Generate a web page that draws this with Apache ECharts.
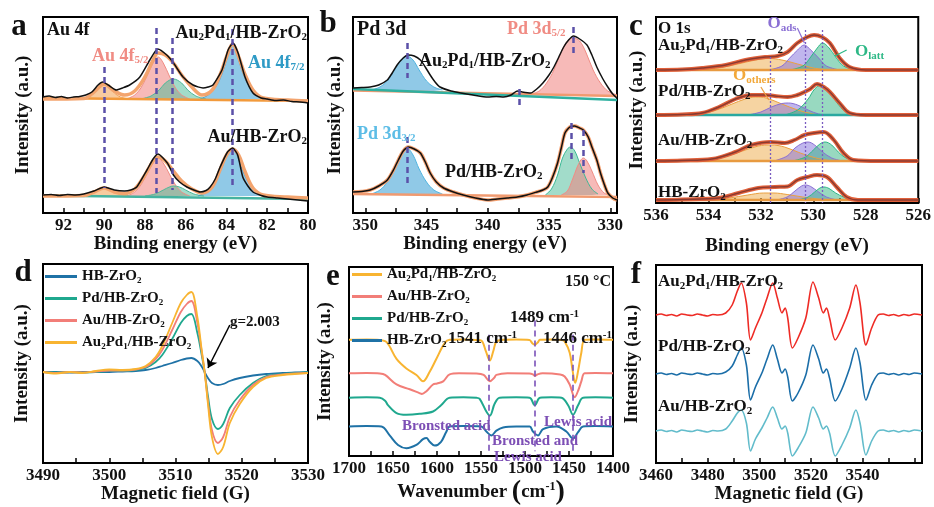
<!DOCTYPE html>
<html><head><meta charset="utf-8">
<script src="https://cdn.jsdelivr.net/npm/echarts@6/dist/echarts.min.js"></script>
<style>html,body{margin:0;padding:0;background:#fff}#c{width:934px;height:507px}</style>
</head><body><div id="c"></div><script>
const FONT = "'Liberation Serif','Times New Roman',serif";

// ---------- Panel a: Au 4f XPS ----------
const aLabelTicks = [80, 82, 84, 86, 88, 90, 92];
const aTopMeasured = [[93,116],[92.7,117],[92.4,115.5],[92.1,116.5],[91.8,115],[91.5,116],[91.2,116.5],[90.9,118],[90.6,121],[90.3,128],[90.07,131],[89.8,128],[89.4,123],[89.1,125],[88.75,128],[88.25,136],[87.76,153],[87.37,164],[86.93,158],[86.6,150],[86.13,136],[85.64,128],[85.15,125],[84.9,126],[84.66,128],[84.22,143],[83.92,163],[83.68,170],[83.43,160],[83.09,136],[82.7,120],[82.3,115],[82.0,114],[81.6,112.5],[81.2,113],[80.8,111.5],[80.4,111],[80,110]];
const aTopFit = [[93,114],[91,114.5],[90.5,121],[90.0,129],[89.5,122],[89.0,118],[88.5,122],[88.0,136],[87.6,153],[87.35,160],[87.0,158],[86.6,150],[86.2,138],[85.7,126],[85.2,118],[84.7,123],[84.3,139],[84.0,156],[83.7,169],[83.4,156],[83.1,139],[82.7,123],[82.2,115],[81,113],[80,112]];
const aTopBase = [[93,115],[80,112]];
const aTopP1 = [[91.2,114],[90.8,116],[90.5,120],[90.25,126],[90.0,129],[89.75,126],[89.5,120],[89.2,116],[88.8,114]];
const aTopP2 = [[88.9,114],[88.5,118],[88.2,125],[87.9,137],[87.6,150],[87.35,156],[87.1,150],[86.8,137],[86.5,125],[86.2,118],[85.8,114]];
const aTopP3 = [[88.2,114],[87.7,117],[87.3,123],[87.0,130],[86.6,134],[86.2,130],[85.9,123],[85.5,117],[85.0,114]];
const aTopP4 = [[85.3,114],[84.9,118],[84.5,127],[84.2,140],[83.95,156],[83.7,168],[83.45,156],[83.2,140],[82.9,127],[82.5,118],[82.1,114]];
const aBotMeasured = [[93,18],[92.6,18.5],[92.2,17.5],[91.8,18.5],[91.4,18],[91.0,19],[90.5,22],[90.0,26],[89.5,23],[89.0,22],[88.7,23],[88.4,26],[87.9,43],[87.6,54],[87.36,59],[86.9,50],[86.6,38],[86.3,31],[85.94,26],[85.6,23],[85.3,21],[85.0,22.5],[84.8,26],[84.55,34],[84.31,46],[83.95,61],[83.7,65],[83.45,58],[83.2,36],[82.95,27],[82.7,21],[82.3,17.5],[82.0,16],[81.5,15],[81.0,14],[80.5,13],[80,12]];
const aBotFit = [[93,17],[91,17.5],[90.5,21],[90.0,25],[89.5,21],[89.0,19.5],[88.5,24],[88.0,38],[87.6,52],[87.35,56],[87.0,52],[86.6,42],[86.2,32],[85.7,24],[85.2,20],[84.7,26],[84.3,44],[84.0,58],[83.7,64],[83.4,58],[83.1,42],[82.7,25],[82.2,18],[81,16],[80,15]];
const aBotBase = [[93,17.5],[80,14]];
const aBotP1 = [[91.2,17],[90.8,18.5],[90.5,21],[90.25,24],[90.0,25],[89.75,24],[89.5,21],[89.2,18.5],[88.8,17]];
const aBotP2 = [[88.9,17],[88.5,21],[88.2,28],[87.9,39],[87.6,50],[87.35,55],[87.1,50],[86.8,39],[86.5,28],[86.2,21],[85.8,17]];
const aBotP3 = [[88.0,17],[87.5,19],[87.1,23],[86.8,26],[86.6,27],[86.3,26],[86.0,23],[85.6,19],[85.1,17]];
const aBotP4 = [[85.4,17],[85.0,21],[84.6,30],[84.3,42],[84.0,56],[83.7,64],[83.45,56],[83.2,42],[82.9,30],[82.5,21],[82.1,17]];
const aDashes = [[90.0,146,25],[87.45,185,20],[86.68,175,23],[83.73,184,26]];

// ---------- Panel b: Pd 3d XPS ----------
const bLabelTicks = [330, 335, 340, 345, 350];
const bTopMeasured = [[351,125],[350.3,125.5],[349.6,126],[348.9,128],[348.2,133],[347.8,140],[347.4,148],[346.9,155],[346.5,158],[346.0,157],[345.5,153],[345.1,146],[344.7,138],[344.3,131],[343.9,126],[343.0,122],[342.2,120],[341.2,118],[340.0,116],[339.3,116.5],[338.7,116],[338.1,118],[337.6,122],[337.2,121],[336.5,120],[336.0,124],[335.5,130],[335.0,138],[334.6,146],[334.2,156],[333.8,166],[333.4,173],[333.0,177],[332.5,174],[331.9,168],[331.5,158],[331.1,146],[330.6,134],[330.2,126],[329.8,119],[329.45,115]];
const bTopBase = [[351,124],[329.45,113]];
const bTopBase2 = [[351,122.5],[329.45,117]];
const bTopP1 = [[349.5,123],[348.8,126],[348.2,132],[347.6,143],[347.1,153],[346.6,157],[346.1,153],[345.6,143],[345.0,132],[344.4,126],[343.7,123]];
const bTopP2 = [[336.5,119],[335.8,122],[335.2,130],[334.6,143],[334.0,161],[333.5,172],[333.0,175],[332.5,172],[332.0,161],[331.4,143],[330.8,130],[330.2,122],[329.45,118]];
const bBotMeasured = [[351,21],[350.3,21.5],[349.6,23],[348.9,27],[348.2,33],[347.7,43],[347.3,53],[346.9,62],[346.5,66],[346.0,64],[345.5,60],[345.1,51],[344.7,40],[344.2,31],[343.6,25],[342.8,21],[342.0,18],[341.0,15],[340.0,13],[339.2,14],[338.4,15],[337.6,16],[336.8,18],[336.0,21],[335.5,23],[335.1,26],[334.7,36],[334.3,50],[334.0,65],[333.7,80],[333.3,86],[332.9,87],[332.5,85],[332.2,83],[331.8,76],[331.5,66],[331.1,53],[330.8,40],[330.5,29],[330.2,20],[329.8,15],[329.45,13]];
const bBotBase = [[351,19],[329.45,16]];
const bBotP1 = [[349.5,19],[348.8,23],[348.2,31],[347.6,44],[347.1,58],[346.6,65],[346.1,58],[345.6,44],[345.0,31],[344.4,23],[343.7,19]];
const bBotP2 = [[335.3,18],[334.8,24],[334.3,38],[333.9,55],[333.5,64],[333.25,66],[332.9,62],[332.5,50],[332.0,35],[331.5,24],[331.0,19]];
const bBotP3 = [[334.0,18],[333.5,22],[333.1,33],[332.7,46],[332.4,53],[332.2,55],[331.9,52],[331.5,42],[331.0,28],[330.5,20],[330.0,18]];
const bDashes = [[346.6,170,135],[337.4,124,106],[333.0,186,160],[346.6,76,26],[333.2,90,53],[332.2,83,40]];

// ---------- Panel c: O 1s XPS ----------
const cLabelTicks = [526, 528, 530, 532, 534, 536];
const c1Env = [[536,133],[535,133.5],[534.24,135],[533.34,138],[532.59,143],[531.84,146],[531.36,147],[530.98,151],[530.61,160],[530.23,166],[529.97,168],[529.67,166],[529.37,160],[529.0,145],[528.62,136],[527.99,133],[527,133],[526,133]];
const c1Oth = [[534.3,133],[533.5,135.5],[532.8,139.5],[532.2,143],[531.7,144.5],[531.2,143],[530.6,139],[530.0,135],[529.4,133]];
const c1Ads = [[531.7,133],[531.2,137],[530.9,145],[530.6,153],[530.35,158],[530.1,153],[529.8,145],[529.5,137],[529.0,133]];
const c1Lat = [[530.9,133],[530.4,137],[530.1,146],[529.85,155],[529.65,160],[529.4,155],[529.15,146],[528.85,137],[528.4,133]];
const c2Env = [[536,88],[535,88.5],[534.24,90],[533.6,96],[532.97,104],[532.37,108],[531.84,108],[531.47,107],[530.98,106],[530.61,108],[530.34,111],[530.12,114],[529.86,119],[529.6,116],[529.37,111],[529.0,100],[528.62,90],[527.99,88],[526,88]];
const c2Oth = [[534.6,88],[533.8,92],[533.1,99],[532.6,104],[532.2,106],[531.8,105],[531.2,99],[530.6,93],[530.0,89],[529.5,88]];
const c2Ads = [[532.5,88],[532.0,91],[531.6,96],[531.2,99.5],[530.95,100],[530.6,98],[530.2,93],[529.8,89],[529.4,88]];
const c2Lat = [[531.1,88],[530.6,93],[530.2,104],[529.95,114],[529.7,118],[529.45,114],[529.2,104],[528.85,93],[528.4,88]];
const c3Env = [[536,42],[535,42.5],[533.87,44],[532.97,51],[532.37,58],[531.62,61],[531.09,60],[530.72,63],[530.34,68],[529.97,70],[529.6,71],[529.22,63],[528.85,50],[528.47,43],[527.5,42],[526,42]];
const c3Oth = [[534.2,42],[533.4,46],[532.7,52],[532.1,57],[531.6,58],[531.1,56],[530.5,50],[529.9,45],[529.3,42]];
const c3Ads = [[531.5,42],[531.0,47],[530.7,55],[530.4,60],[530.2,61],[529.95,58],[529.65,51],[529.3,45],[528.9,42]];
const c3Lat = [[530.8,42],[530.3,46],[530.0,53],[529.75,59],[529.55,61],[529.3,58],[529.05,51],[528.75,45],[528.3,42]];
const c4Env = [[536,3],[535,3.5],[533.6,5],[532.85,10],[532.1,15],[531.47,16],[530.98,16.5],[530.61,23],[530.23,26],[529.86,28],[529.48,26],[529.11,16],[528.73,6],[528.3,3],[526,3]];
const c4Oth = [[533.9,3],[533.2,5],[532.5,8],[531.9,10],[531.5,10],[531.0,8.5],[530.4,6],[529.8,4],[529.2,3]];
const c4Ads = [[531.4,3],[531.0,6],[530.7,12],[530.45,17],[530.3,18],[530.1,16.5],[529.8,11],[529.5,6],[529.1,3]];
const c4Lat = [[530.6,3],[530.2,6],[529.95,11],[529.75,15],[529.6,16],[529.4,14.5],[529.15,10],[528.85,6],[528.4,3]];
const cBaselines = [133, 88, 42, 3];
const cDashes = [[531.65,146,0],[530.3,173,0],[529.65,173,0]];

// ---------- Panel d: EPR ----------
const dLabelTicks = [3490, 3500, 3510, 3520, 3530];
const dX = [3490,3492,3494,3496,3498,3500,3502,3504,3505.5,3507,3508,3509.5,3510.8,3511.7,3512.4,3513.3,3513.9,3514.4,3514.9,3515.5,3516.4,3517.2,3518.2,3519.7,3521.7,3523.7,3526.2,3528,3530];
const dHB   = [91,91,90.5,91,91,91,91.5,92,93,95,97,100,103,104.5,105,102,97,91,85,80,78,79,82,85,87.5,89,90,90.5,91];
const dPd   = [91,90.5,91,90.5,91,92,92,93,95,101,108,124,140,147,149,130,110,91,67,44,34,39,55,68,80,87,89,90,90.5];
const dAu   = [91,90,91,90.5,91.5,92.5,92.5,93.5,96,104,113,133,151,159,162,140,114,91,62,33,20,26,46,63,78,86,88.5,89.5,90];
const dAuPd = [91,89.5,91,90,92,93.5,93,94,97,106,117,140,160,168,171,146,116,91,59,26,9,16,40,59,76,85,88,89,90];

// ---------- Panel e: Py-IR ----------
const eLabelTicks = [1400, 1450, 1500, 1550, 1600, 1650, 1700];
const eAuPd = [[1700,121.7],[1680,122],[1665,121.5],[1657,119],[1646,101.7],[1634.8,91.7],[1623.4,85],[1615.9,78.3],[1608.3,88.3],[1600.8,101.7],[1591.3,118.3],[1585.6,121.7],[1570,122],[1555,121.5],[1549.6,121],[1544.5,110],[1540,100],[1536,110],[1532.5,120],[1525,121.7],[1510,122],[1495,121.5],[1491.5,118],[1488.9,116.7],[1485.5,119],[1483,121.7],[1470,122],[1458,121.5],[1454.9,120],[1449.2,108.3],[1446,90],[1442.9,76.7],[1439.5,90],[1436,108.3],[1432.2,121.7],[1420,122],[1400,121.7]];
const eAu = [[1700,86.7],[1680,87],[1665,86.5],[1659,85],[1646,75],[1631,70],[1620,66],[1617.2,65],[1612,68],[1604.5,75],[1600,76],[1593,78.3],[1585.6,85.6],[1575,86.7],[1555,86.5],[1547,85],[1540,78.3],[1535,82],[1532.5,85],[1520,86.7],[1495,86.5],[1491,85.5],[1488.9,84],[1486,85.5],[1480,86.7],[1460,85.5],[1454.9,83.3],[1449.2,75],[1443.5,61.7],[1439,70],[1436,78.3],[1432.2,86.7],[1420,87],[1400,86.7]];
const ePd = [[1700,61],[1680,61.5],[1665,61],[1659,58],[1655.7,53.3],[1646,45],[1634.8,43.3],[1619.7,44.3],[1604.5,46.7],[1595.4,53.3],[1585.6,61],[1570,61.5],[1555,61],[1551.5,60],[1543.9,46.7],[1540,42.3],[1534.4,55],[1528.8,61],[1510,61.5],[1494.7,61],[1488.9,53.3],[1483,61],[1470,61.5],[1458.5,61],[1451,53.3],[1445.4,43.3],[1439.7,53.3],[1434,61],[1420,61.5],[1400,61]];
const eHB = [[1700,31],[1680,31.5],[1663.2,31],[1653.8,21.7],[1644.3,11.7],[1634.8,8.3],[1623.4,11.7],[1615.9,17.7],[1612,19],[1608.3,15],[1602.6,11],[1595.4,15],[1589.7,25],[1585.6,31],[1570,31.5],[1549.6,31],[1543.9,25.7],[1538.1,21.7],[1532.5,26.7],[1524.9,30],[1510,31],[1494.7,31],[1490.9,25.7],[1485.2,21.7],[1479.5,28.3],[1464.3,31],[1453,25.7],[1445.4,18.3],[1439.7,25],[1434,31],[1420,31.5],[1400,31]];
const eDashes = [[1541,127,5],[1489,142,5],[1446,127,3]];

// ---------- Panel f: DMPO EPR ----------
const fLabelTicks = [3460, 3480, 3500, 3520, 3540];
const fX = [3460,3462,3464,3466,3468,3470,3472,3474,3476,3478,3480,3482,3484,3487,3489.5,3491.5,3493,3495,3496.6,3498.5,3501,3503,3505.2,3507,3508.8,3510,3511,3512.8,3515,3518,3520.8,3523,3524.8,3526,3527.2,3529.4,3532,3535,3537.4,3539,3541.3,3543.5,3546,3548,3550,3552,3554,3556,3558,3560,3563];
const fAuPd = [148,149,147.5,148.5,147,149,148,147.5,149,148,147,148.5,148,150,158,172,180,160,123,135,150,165,180,165,150,155,145,115,125,145,181,165,150,155,145,123,135,155,178,160,118,135,148,149,147.5,148.5,147,148.5,147.5,149,148];
const fPd   = [89,90,88.5,89.5,88,90,89,88.5,90,89,88,89.5,89,91,97,108,115,98,63,76,90,104,118,104,90,94,86,62,70,88,118,104,90,94,85,62,74,95,115,100,63,78,89,90,88.5,89.5,88,89.5,88.5,90,89];
const fAu   = [32,33,31.5,32.5,31,33,32,31.5,33,32,31,32.5,32,34,42,50,53,40,12,24,35,45,56,45,34,37,30,7,15,30,56,45,34,37,30,7,18,35,53,40,8,22,32,33,31.5,32.5,31,32.5,31.5,33,32];

// ---------- helpers ----------
function rt(s) {
  return '{n|' + s.replace(/_\{([^}]*)\}/g, '}{s|$1}{n|').replace(/\^\{([^}]*)\}/g, '}{u|$1}{n|').replace(/\(\(/g,'}{p|(}{n|').replace(/\)\)/g,'}{p|)}{n|') + '}';
}
function rich(size, color, key) {
  const c = {}; c[key] = color;
  const base = Object.assign({fontFamily: FONT, fontWeight: 'bold'}, c);
  return {
    n: Object.assign({}, base, {fontSize: size, lineHeight: size + 2}),
    s: Object.assign({}, base, {fontSize: Math.round(size * 0.62), lineHeight: Math.round(size * 0.45), verticalAlign: 'bottom'}),
    u: Object.assign({}, base, {fontSize: Math.round(size * 0.62), lineHeight: Math.round(size * 0.45), verticalAlign: 'top'}),
    p: Object.assign({}, base, {fontSize: Math.round(size * 1.45), lineHeight: size + 4})
  };
}
function range(a, b, st) { const r = []; for (let v = a; v <= b + 1e-9; v += st) r.push(+v.toFixed(3)); return r; }
function zip(xs, ys) { return xs.map((x, i) => [x, ys[i]]); }

const series = [];
function line(g, data, color, width, z, extra) {
  series.push(Object.assign({type: 'line', xAxisIndex: g, yAxisIndex: g, data: data, smooth: 0.35, symbol: 'none', showSymbol: false, silent: true, animation: false, z: z, lineStyle: {color: color, width: width}, itemStyle: {color: color}}, extra || {}));
}
function area(g, data, fill, stroke, origin) {
  line(g, data, stroke, 1, 1, {areaStyle: {color: fill, origin: origin, opacity: 1}});
}
function vlines(g, list, color, dash, width) {
  series.push({type: 'line', xAxisIndex: g, yAxisIndex: g, data: [], silent: true, z: 6, animation: false,
    markLine: {silent: true, animation: false, symbol: ['none', 'none'], label: {show: false},
      lineStyle: {color: color, type: dash, width: width},
      data: list.map(v => [{coord: [v[0], v[1]]}, {coord: [v[0], v[2]]}])}});
}

const PINK = 'rgba(240,130,125,0.55)', GREEN = 'rgba(70,185,150,0.5)', BLUE = 'rgba(70,165,215,0.6)', ORANGE = 'rgba(242,160,80,0.55)';
const PURPLE_DASH = '#5b50a8';

// a
area(0, aTopP1, ORANGE, '#f0a050', 114); area(0, aTopP2, PINK, '#f08c84', 114); area(0, aTopP3, GREEN, '#4fb899', 114); area(0, aTopP4, BLUE, '#3f9fd0', 114);
area(0, aBotP1, ORANGE, '#f0a050', 17); area(0, aBotP2, PINK, '#f08c84', 17); area(0, aBotP3, GREEN, '#4fb899', 17); area(0, aBotP4, BLUE, '#3f9fd0', 17);
line(0, aTopBase, '#f29a3c', 2.5, 2, {smooth: false}); line(0, aBotBase, '#45b3a0', 2.5, 2, {smooth: false});
line(0, aTopFit, '#f3a46e', 3.5, 2); line(0, aBotFit, '#f3a46e', 3.5, 2);
line(0, aTopMeasured, '#111', 1.5, 4, {smooth: 0.2}); line(0, aBotMeasured, '#111', 1.5, 4, {smooth: 0.2});
vlines(0, aDashes, PURPLE_DASH, [6, 4], 2.5);

// b
area(1, bTopP1, BLUE, '#50b4e0', 122); area(1, bTopP2, PINK, '#f08c84', 118);
area(1, bBotP1, BLUE, '#50b4e0', 18); area(1, bBotP2, GREEN, '#3cb894', 18); area(1, bBotP3, PINK, '#f08c84', 18);
line(1, bTopBase2, '#f09a70', 2.5, 2, {smooth: false}); line(1, bTopBase, '#2fb0a0', 2.5, 2, {smooth: false});
line(1, bBotBase, '#f09a70', 2.5, 2, {smooth: false});
line(1, bBotMeasured, '#f3a070', 3.5, 2);
line(1, bTopMeasured, '#111', 1.5, 4, {smooth: 0.2}); line(1, bBotMeasured, '#111', 1.5, 4, {smooth: 0.2});
vlines(1, bDashes, PURPLE_DASH, [6, 4], 2.5);

// c
const cSets = [[c1Env, c1Oth, c1Ads, c1Lat], [c2Env, c2Oth, c2Ads, c2Lat], [c3Env, c3Oth, c3Ads, c3Lat], [c4Env, c4Oth, c4Ads, c4Lat]];
cSets.forEach((st, i) => {
  const b = cBaselines[i];
  area(2, st[1], 'rgba(238,170,70,0.5)', '#eaa040', b);
  area(2, st[2], 'rgba(130,110,220,0.5)', '#8a6fd4', b);
  area(2, st[3], 'rgba(50,180,130,0.5)', '#2db886', b);
  line(2, [[536, b], [526, b]], i === 1 ? '#2aa8a0' : '#e89a40', 2.5, 2, {smooth: false});
  line(2, st[0], '#e0603a', 4, 3);
  line(2, st[0], '#8a3a30', 1.4, 4);
});
vlines(2, cDashes, '#7a5cc0', [2, 2], 1.3);
series.push({type: 'line', xAxisIndex: 2, yAxisIndex: 2, data: [], silent: true, z: 6, animation: false,
  markLine: {silent: true, animation: false, symbol: ['none', 'none'], label: {show: false},
    data: [
      [{coord: [530.61, 175], lineStyle: {color: '#8a6fd4', width: 1.2, type: 'solid'}}, {coord: [530.34, 160]}],
      [{coord: [532.0, 116], lineStyle: {color: '#eaa040', width: 1.2, type: 'solid'}}, {coord: [531.7, 103]}],
      [{coord: [529.18, 147], lineStyle: {color: '#2db886', width: 1.2, type: 'solid'}}, {coord: [528.73, 153]}]
    ]}});

// d
const dCols = {dHB: '#1f72a6', dPd: '#1fa88e', dAu: '#f27e78', dAuPd: '#f8b431'};
line(3, zip(dX, dHB), dCols.dHB, 1.8, 3, {name: 'dHB'});
line(3, zip(dX, dPd), dCols.dPd, 1.8, 3, {name: 'dPd'});
line(3, zip(dX, dAu), dCols.dAu, 1.8, 3, {name: 'dAu'});
line(3, zip(dX, dAuPd), dCols.dAuPd, 1.8, 3, {name: 'dAuPd'});
series.push({type: 'line', xAxisIndex: 3, yAxisIndex: 3, data: [], silent: true, z: 6, animation: false,
  markLine: {silent: true, animation: false, symbol: ['none', 'arrow'], symbolSize: 9, label: {show: false},
    lineStyle: {color: '#000', width: 1.5, type: 'solid'},
    data: [[{coord: [3518.2, 138]}, {coord: [3514.9, 95]}]]}});

// e
const eCols = {eAuPd: '#f8b431', eAu: '#f27e78', ePd: '#1fa88e', eHB: '#1f72a6'};
line(4, eAuPd, eCols.eAuPd, 2, 3, {name: 'eAuPd'});
line(4, eAu, eCols.eAu, 2, 3, {name: 'eAu'});
line(4, ePd, eCols.ePd, 2, 3, {name: 'ePd'});
line(4, eHB, eCols.eHB, 2, 3, {name: 'eHB'});
vlines(4, eDashes, '#7b52b8', [6, 4], 1.6);

// f
line(5, zip(fX, fAuPd), '#ee2b25', 1.6, 3, {smooth: 0.3});
line(5, zip(fX, fPd), '#1b6ea8', 1.6, 3, {smooth: 0.3});
line(5, zip(fX, fAu), '#62bccb', 1.6, 3, {smooth: 0.3});

const LABELS = {dHB: 'HB-ZrO_{2}', dPd: 'Pd/HB-ZrO_{2}', dAu: 'Au/HB-ZrO_{2}', dAuPd: 'Au_{2}Pd_{1}/HB-ZrO_{2}',
  eAuPd: 'Au_{2}Pd_{1}/HB-ZrO_{2}', eAu: 'Au/HB-ZrO_{2}', ePd: 'Pd/HB-ZrO_{2}', eHB: 'HB-ZrO_{2}'};

// ---------- layout ----------
const GRIDS = [
  {left: 43, top: 17, width: 265, height: 196},
  {left: 353, top: 17, width: 264, height: 196},
  {left: 656, top: 17, width: 267, height: 186},
  {left: 43, top: 264, width: 265, height: 199},
  {left: 349, top: 267, width: 264, height: 198},
  {left: 656, top: 265, width: 266, height: 198}];
const XDEF = [
  {min: 80, max: 93, inverse: true, labels: aLabelTicks, ticks: range(80, 93, 1), name: 'Binding energy (eV)', gap: 20},
  {min: 329.45, max: 351, inverse: true, labels: bLabelTicks, ticks: range(330, 350, 2.5), name: 'Binding energy (eV)', gap: 20},
  {min: 526, max: 536, inverse: true, labels: cLabelTicks, ticks: range(526, 536, 1), name: 'Binding energy (eV)', gap: 33},
  {min: 3490, max: 3530, inverse: false, labels: dLabelTicks, ticks: range(3490, 3530, 5), name: 'Magnetic field (G)', gap: 18},
  {min: 1400, max: 1700, inverse: true, labels: eLabelTicks, ticks: range(1400, 1700, 25), name: 'Wavenumber ((cm^{-1}))', gap: 14},
  {min: 3460, max: 3563, inverse: false, labels: fLabelTicks, ticks: range(3460, 3560, 10), name: 'Magnetic field (G)', gap: 16}];
const YDEF = [{max: 196, gap: 10}, {max: 196, gap: 8}, {max: 186, gap: 9}, {max: 199, gap: 11}, {max: 198, gap: 14}, {max: 198, gap: 14}];

const xAxis = XDEF.map((d, i) => ({
  type: 'value', gridIndex: i, min: d.min, max: d.max, inverse: d.inverse,
  name: rt(d.name), nameLocation: 'middle', nameGap: d.gap,
  nameTextStyle: {rich: rich(19, '#111', 'color')},
  axisLine: {show: true, lineStyle: {color: '#000', width: 2}},
  axisTick: {show: true, inside: true, length: 5, lineStyle: {color: '#000', width: 1.5}, customValues: d.ticks},
  axisLabel: {show: true, margin: 4, fontFamily: FONT, fontWeight: 'bold', fontSize: 17, color: '#111', customValues: d.labels, formatter: v => String(Math.round(v))},
  splitLine: {show: false}
}));
const yAxis = YDEF.map((d, i) => ({
  type: 'value', gridIndex: i, min: 0, max: d.max,
  name: 'Intensity (a.u.)', nameLocation: 'middle', nameGap: d.gap, nameRotate: 90,
  nameTextStyle: {fontFamily: FONT, fontWeight: 'bold', fontSize: 19, color: '#111'},
  axisLine: {show: true, lineStyle: {color: '#000', width: 2}},
  axisTick: {show: false}, axisLabel: {show: false}, splitLine: {show: false}
}));

function legend(names, left, top, w) {
  return {left: left, top: top, padding: 0, orient: 'vertical', itemWidth: w, itemHeight: 3, itemGap: 6, icon: 'rect', selectedMode: false,
    data: names, formatter: n => rt(LABELS[n]), textStyle: {fontFamily: FONT, fontWeight: 'bold', fontSize: 15, color: '#111', rich: rich(15, '#111', 'color')}};
}

const T = [];
function txt(x, y, s, size, color, align) {
  T.push({type: 'text', x: x, y: y, z: 50, silent: true,
    style: {text: rt(s), rich: rich(size, color, 'fill'), fill: color, font: 'bold ' + size + 'px ' + FONT,
      align: align || 'left', textAlign: align || 'left', verticalAlign: 'middle', textVerticalAlign: 'middle'}});
}
// panel letters
[['a', 19, 27], ['b', 328, 24], ['c', 636, 27], ['d', 23, 273], ['e', 333, 277], ['f', 636, 275]].forEach(p => txt(p[1], p[2], p[0], 31, '#111', 'center'));
// a
txt(47, 30, 'Au 4f', 18, '#111'); txt(307, 33, 'Au_{2}Pd_{1}/HB-ZrO_{2}', 18, '#111', 'right');
txt(92, 56, 'Au 4f_{5/2}', 18, '#f08c84'); txt(248, 63, 'Au 4f_{7/2}', 18, '#2f9bc6');
txt(307, 137, 'Au/HB-ZrO_{2}', 18, '#111', 'right');
// b
txt(357, 30, 'Pd 3d', 20, '#111'); txt(419, 61, 'Au_{2}Pd_{1}/HB-ZrO_{2}', 18, '#111');
txt(507, 29, 'Pd 3d_{5/2}', 18, '#f08c84'); txt(357, 134, 'Pd 3d_{3/2}', 18, '#5dbde6');
txt(445, 172, 'Pd/HB-ZrO_{2}', 18, '#111');
// c
txt(658, 29, 'O 1s', 17, '#111'); txt(658, 46, 'Au_{2}Pd_{1}/HB-ZrO_{2}', 17, '#111');
txt(658, 92, 'Pd/HB-ZrO_{2}', 17, '#111'); txt(658, 141, 'Au/HB-ZrO_{2}', 17, '#111'); txt(658, 193, 'HB-ZrO_{2}', 17, '#111');
txt(782, 24, 'O_{ads}', 17, '#8a6fd4', 'center'); txt(733, 76, 'O_{others}', 17, '#f2a83a'); txt(855, 52, 'O_{latt}', 17, '#2db886');
// d
txt(230, 322, 'g=2.003', 15, '#111');
// e
txt(611, 282, '150 °C', 16, '#111', 'right');
txt(510, 318, '1489 cm^{-1}', 17, '#111'); txt(448, 339, '1541 cm^{-1}', 17, '#111'); txt(612, 339, '1446 cm^{-1}', 17, '#111', 'right');
txt(402, 426, 'Bronsted acid', 15, '#7d4fb5'); txt(612, 422, 'Lewis acid', 15, '#7d4fb5', 'right');
txt(492, 441, 'Bronsted and', 15, '#7d4fb5'); txt(494, 457, 'Lewis acid', 15, '#7d4fb5');
// f
txt(658, 282, 'Au_{2}Pd_{1}/HB-ZrO_{2}', 17, '#111'); txt(658, 347, 'Pd/HB-ZrO_{2}', 17, '#111'); txt(658, 407, 'Au/HB-ZrO_{2}', 17, '#111');

const chart = echarts.init(document.getElementById('c'), null, {renderer: 'canvas'});
chart.setOption({
  animation: false, backgroundColor: '#fff',
  textStyle: {fontFamily: FONT},
  grid: GRIDS.map(g => Object.assign({show: true, borderColor: '#000', borderWidth: 2, backgroundColor: 'transparent', containLabel: false}, g)),
  xAxis: xAxis, yAxis: yAxis,
  legend: [legend(['dHB', 'dPd', 'dAu', 'dAuPd'], 45, 269, 32), legend(['eAuPd', 'eAu', 'ePd', 'eHB'], 352, 267, 30)],
  series: series,
  graphic: {elements: T}
});
</script></body></html>
